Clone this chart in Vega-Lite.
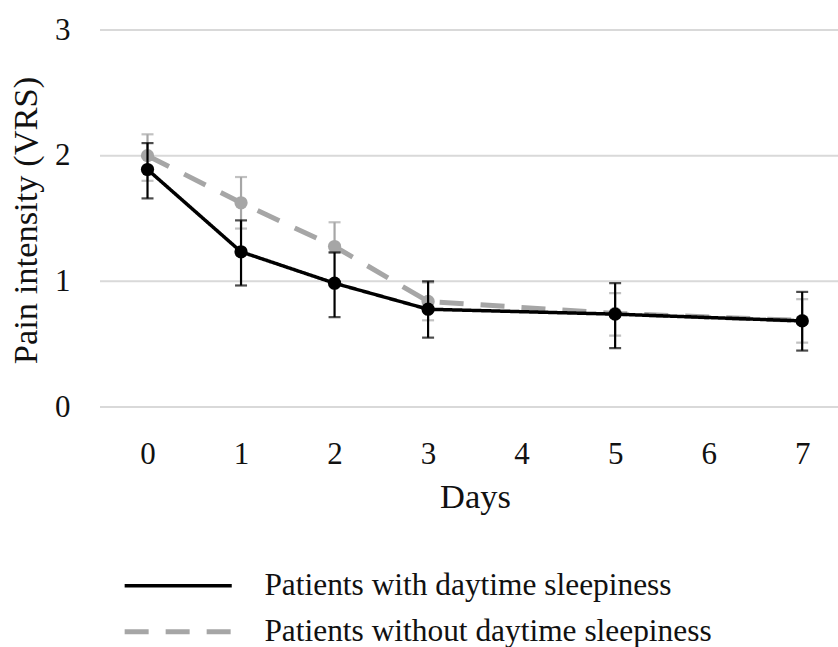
{
  "$schema": "https://vega.github.io/schema/vega-lite/v6.json",
  "autosize": {"type": "none"},
  "width": 738,
  "height": 377,
  "padding": {"left": 100, "top": 30, "right": 0, "bottom": 240},
  "background": "white",
  "config": {
    "font": "'Liberation Serif', serif",
    "view": {"stroke": null},
    "axis": {
      "labelFont": "'Liberation Serif', serif",
      "titleFont": "'Liberation Serif', serif",
      "labelFontSize": 31,
      "titleFontSize": 34.5,
      "labelColor": "#111111",
      "titleColor": "#111111",
      "titleFontWeight": "normal",
      "ticks": false,
      "tickSize": 0,
      "domain": false
    },
    "legend": {
      "labelFont": "'Liberation Serif', serif",
      "labelFontSize": 31.4,
      "labelColor": "#111111",
      "labelLimit": 700
    }
  },
  "data": {
    "values": [
      {"group": "Patients with daytime sleepiness", "day": 0, "mean": 1.89, "lo": 1.66, "hi": 2.10},
      {"group": "Patients with daytime sleepiness", "day": 1, "mean": 1.235, "lo": 0.967, "hi": 1.485},
      {"group": "Patients with daytime sleepiness", "day": 2, "mean": 0.985, "lo": 0.715, "hi": 1.23},
      {"group": "Patients with daytime sleepiness", "day": 3, "mean": 0.778, "lo": 0.552, "hi": 1.0},
      {"group": "Patients with daytime sleepiness", "day": 5, "mean": 0.739, "lo": 0.468, "hi": 0.985},
      {"group": "Patients with daytime sleepiness", "day": 7, "mean": 0.685, "lo": 0.449, "hi": 0.916},
      {"group": "Patients without daytime sleepiness", "day": 0, "mean": 2.0, "lo": 1.80, "hi": 2.17},
      {"group": "Patients without daytime sleepiness", "day": 1, "mean": 1.625, "lo": 1.42, "hi": 1.83},
      {"group": "Patients without daytime sleepiness", "day": 2, "mean": 1.277, "lo": 1.23, "hi": 1.47},
      {"group": "Patients without daytime sleepiness", "day": 3, "mean": 0.84, "lo": 0.69, "hi": 0.99},
      {"group": "Patients without daytime sleepiness", "day": 5, "mean": 0.745, "lo": 0.568, "hi": 0.906},
      {"group": "Patients without daytime sleepiness", "day": 7, "mean": 0.688, "lo": 0.512, "hi": 0.858}
    ]
  },
  "encoding": {
    "x": {
      "field": "day",
      "type": "quantitative",
      "scale": {"domain": [-0.508, 7.383], "nice": false, "zero": false},
      "axis": {
        "title": "Days",
        "values": [0, 1, 2, 3, 4, 5, 6, 7],
        "format": "d",
        "grid": false,
        "labelPadding": 32,
        "labelFlush": false,
        "titleX": 375,
        "titleY": 100,
        "titleBaseline": "alphabetic",
        "titleAnchor": "middle"
      }
    }
  },
  "layer": [
    {
      "mark": {"type": "rule", "stroke": "#d9d9d9", "strokeWidth": 2},
      "data": {"values": [{"v": 0}, {"v": 1}, {"v": 2}, {"v": 3}]},
      "encoding": {
        "x": null,
        "y": {
          "field": "v",
          "type": "quantitative",
          "scale": {"domain": [0, 3], "nice": false},
          "axis": {
            "title": "Pain intensity (VRS)",
            "values": [0, 1, 2, 3],
            "format": "d",
            "grid": false,
            "labelPadding": 30,
            "labelBaseline": "middle",
            "titleX": -74,
            "titleY": 190,
            "titleAngle": -90,
            "titleBaseline": "middle",
            "titleAnchor": "middle"
          }
        }
      }
    },
    {
      "transform": [{"filter": "datum.group === 'Patients without daytime sleepiness'"}],
      "layer": [
        {
          "mark": {"type": "rule", "stroke": "#a6a6a6", "strokeWidth": 2.2},
          "encoding": {
            "y": {"field": "lo", "type": "quantitative"},
            "y2": {"field": "hi"}
          }
        },
        {
          "mark": {"type": "tick", "orient": "horizontal", "color": "#a6a6a6", "size": 12, "thickness": 2.2},
          "encoding": {"y": {"field": "lo", "type": "quantitative"}}
        },
        {
          "mark": {"type": "tick", "orient": "horizontal", "color": "#a6a6a6", "size": 12, "thickness": 2.2},
          "encoding": {"y": {"field": "hi", "type": "quantitative"}}
        },
        {
          "mark": {"type": "line", "strokeCap": "butt"},
          "encoding": {
            "y": {"field": "mean", "type": "quantitative"},
            "stroke": {
              "field": "group",
              "type": "nominal",
              "scale": {
                "domain": ["Patients with daytime sleepiness", "Patients without daytime sleepiness"],
                "range": ["#000000", "#a6a6a6"]
              },
              "legend": {
                "title": null,
                "orient": "none",
                "legendX": 62.5,
                "legendY": 540,
                "padding": 0,
                "symbolType": "M-5.1,0L5.1,0",
                "symbolSize": 441,
                "labelOffset": 70.5,
                "labelLimit": 700,
                "labelFont": "'Liberation Serif', serif",
                "rowPadding": 13,
                "labelBaseline": "middle"
              }
            },
            "strokeDash": {
              "field": "group",
              "type": "nominal",
              "scale": {
                "domain": ["Patients with daytime sleepiness", "Patients without daytime sleepiness"],
                "range": [[1, 0], [24, 17]]
              },
              "legend": {
                "title": null,
                "orient": "none",
                "legendX": 62.5,
                "legendY": 540,
                "padding": 0,
                "symbolType": "M-5.1,0L5.1,0",
                "symbolSize": 441,
                "labelOffset": 70.5,
                "labelLimit": 700,
                "labelFont": "'Liberation Serif', serif",
                "rowPadding": 13,
                "labelBaseline": "middle"
              }
            },
            "strokeWidth": {
              "field": "group",
              "type": "nominal",
              "scale": {
                "domain": ["Patients with daytime sleepiness", "Patients without daytime sleepiness"],
                "range": [3.5, 5]
              },
              "legend": {
                "title": null,
                "orient": "none",
                "legendX": 62.5,
                "legendY": 540,
                "padding": 0,
                "symbolType": "M-5.1,0L5.1,0",
                "symbolSize": 441,
                "labelOffset": 70.5,
                "labelLimit": 700,
                "labelFont": "'Liberation Serif', serif",
                "rowPadding": 13,
                "labelBaseline": "middle"
              }
            }
          }
        },
        {
          "mark": {"type": "circle", "color": "#a6a6a6", "opacity": 1, "size": 175},
          "encoding": {"y": {"field": "mean", "type": "quantitative"}}
        }
      ]
    },
    {
      "transform": [{"filter": "datum.group === 'Patients with daytime sleepiness'"}],
      "layer": [
        {
          "mark": {"type": "rule", "stroke": "#000000", "strokeWidth": 2.2},
          "encoding": {
            "y": {"field": "lo", "type": "quantitative"},
            "y2": {"field": "hi"}
          }
        },
        {
          "mark": {"type": "tick", "orient": "horizontal", "color": "#000000", "size": 12, "thickness": 2.2},
          "encoding": {"y": {"field": "lo", "type": "quantitative"}}
        },
        {
          "mark": {"type": "tick", "orient": "horizontal", "color": "#000000", "size": 12, "thickness": 2.2},
          "encoding": {"y": {"field": "hi", "type": "quantitative"}}
        },
        {
          "mark": {"type": "line", "strokeCap": "butt"},
          "encoding": {
            "y": {"field": "mean", "type": "quantitative"},
            "stroke": {"field": "group", "type": "nominal"},
            "strokeDash": {"field": "group", "type": "nominal"},
            "strokeWidth": {"field": "group", "type": "nominal"}
          }
        },
        {
          "mark": {"type": "circle", "color": "#000000", "opacity": 1, "size": 175},
          "encoding": {"y": {"field": "mean", "type": "quantitative"}}
        }
      ]
    }
  ]
}
